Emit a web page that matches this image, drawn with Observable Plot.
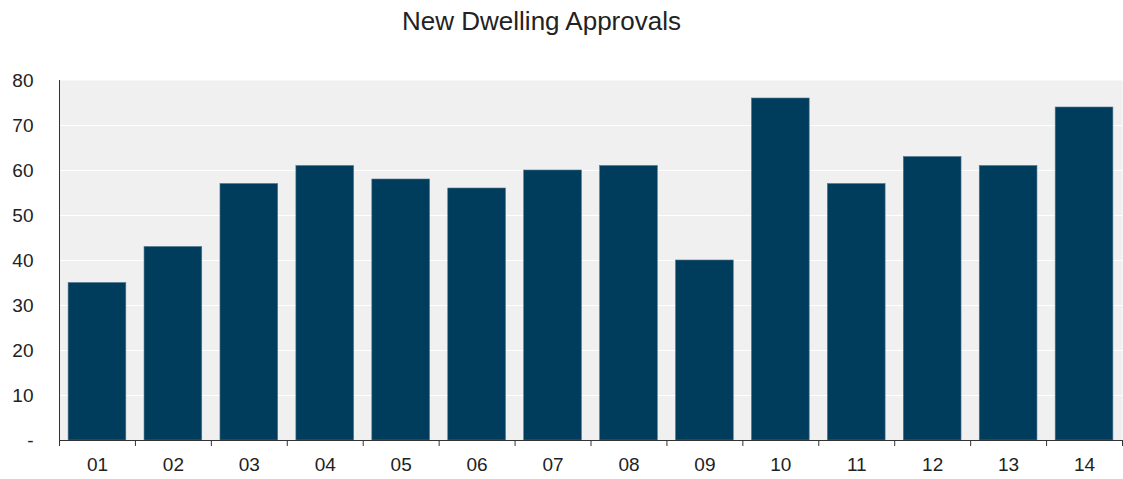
<!DOCTYPE html>
<html>
<head>
<meta charset="utf-8">
<script src="https://cdn.jsdelivr.net/npm/d3@7"></script>
<script src="https://cdn.jsdelivr.net/npm/@observablehq/plot@0.6"></script>
<style>
  html, body { margin: 0; padding: 0; background: white; }
  #title {
    box-sizing: border-box;
    height: 46px;
    width: 1083px;
    padding-top: 6px;
    text-align: center;
    font-family: "Liberation Sans", Arial, sans-serif;
    font-size: 26px;
    line-height: normal;
    color: #222;
    white-space: nowrap;
  }
  #chart svg { display: block; }
</style>
</head>
<body>
<div id="title"></div>
<div id="chart"></div>
<script>
const titleText = "New Dwelling Approvals";
const categories = ["01","02","03","04","05","06","07","08","09","10","11","12","13","14"];
const values = [35, 43, 57, 61, 58, 56, 60, 61, 40, 76, 57, 63, 61, 74];
const yTicks = [0, 10, 20, 30, 40, 50, 60, 70, 80];

document.getElementById("title").textContent = titleText;

const data = categories.map((c, i) => ({period: c, value: values[i]}));

const W = 1123, H = 433;
const mL = 59, mR = 1, mT = 34, mB = 39;
const half = (W - mL - mR) / categories.length / 2;
const axisColor = "#333";

const chart = Plot.plot({
  width: W,
  height: H,
  marginTop: mT,
  marginBottom: mB,
  marginLeft: mL,
  marginRight: mR,
  style: {
    fontFamily: "'Liberation Sans', Arial, sans-serif",
    fontSize: "19px",
    color: "#222",
    background: "white"
  },
  x: {domain: categories, paddingInner: 0.24, paddingOuter: 0.12, round: false, axis: null, label: null},
  y: {domain: [0, 80], axis: null, label: null},
  marks: [
    Plot.frame({fill: "#f0f0f0", stroke: null}),
    Plot.ruleY(yTicks.filter(t => t > 0 && t < 80), {stroke: "white", strokeWidth: 1}),
    Plot.barY(data, {x: "period", y: "value", fill: "#003d5c", stroke: "#4f7590", strokeWidth: 0.6}),
    Plot.ruleY([0], {stroke: axisColor, strokeWidth: 1}),
    Plot.ruleX([categories[0]], {dx: -half, stroke: axisColor, strokeWidth: 1}),
    Plot.axisY(yTicks, {tickSize: 0, tickPadding: 26, tickFormat: d => d === 0 ? "-" : String(d), fontSize: 19, label: null}),
    Plot.axisX(categories, {tickSize: 0, tickPadding: 17, fontSize: 19, label: null}),
    Plot.axisX(categories, {tickSize: 6, tickFormat: () => "", dx: -half, stroke: axisColor, label: null}),
    Plot.axisX([categories[categories.length - 1]], {tickSize: 6, tickFormat: () => "", dx: half, stroke: axisColor, label: null})
  ]
});
document.getElementById("chart").appendChild(chart);
</script>
</body>
</html>
